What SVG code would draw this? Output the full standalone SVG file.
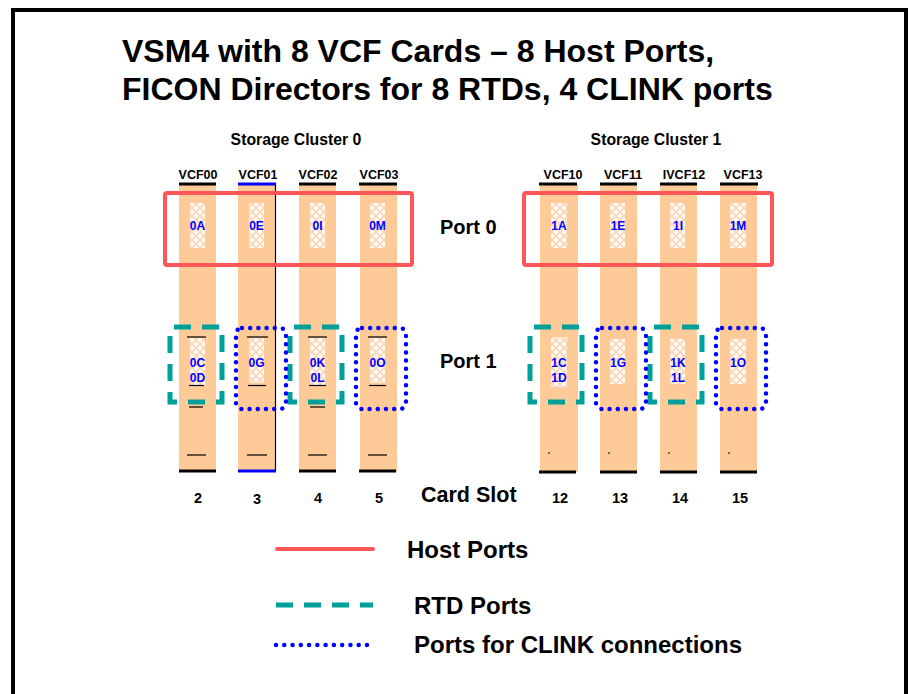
<svg xmlns="http://www.w3.org/2000/svg" width="909" height="694" viewBox="0 0 909 694">
<defs>
<pattern id="hatch" width="8" height="8" patternUnits="userSpaceOnUse">
<rect width="8" height="8" fill="#fffaf5"/>
<path d="M0,0 L8,8 M8,0 L0,8" stroke="#fad3b0" stroke-width="1.5"/>
</pattern>
<style>
text{font-family:"Liberation Sans",Arial,sans-serif;font-weight:bold;fill:#000}
.title{font-size:32px}
.cl{font-size:15.8px;text-anchor:middle}
.vcf{font-size:12.5px;text-anchor:middle}
.port{font-size:20px}
.pl{font-size:12px;fill:#0000ff;text-anchor:middle}
.slot{font-size:14.5px;text-anchor:middle}
.leg{font-size:24px}
.bar{fill:#fecb98}
.hb{fill:url(#hatch)}
.host{fill:none;stroke:#ff5757;stroke-width:4}
.rtd{fill:none;stroke:#00a09a;stroke-width:5;stroke-dasharray:17 11}
.clink{fill:none;stroke:#0000ff;stroke-width:4.5;stroke-dasharray:0 8.2;stroke-linecap:round}
.hl{stroke:#000;stroke-width:3}
.sl{stroke:#000;stroke-width:1.2}
</style>
</defs>
<rect x="13" y="10" width="893" height="700" fill="#fff" stroke="#000" stroke-width="4"/>
<text class="title" x="122" y="62">VSM4 with 8 VCF Cards – 8 Host Ports,</text>
<text class="title" x="122" y="100">FICON Directors for 8 RTDs, 4 CLINK ports</text>
<text class="cl" x="296" y="145">Storage Cluster 0</text>
<text class="cl" x="656" y="145">Storage Cluster 1</text>

<g id="cards">
<g id="vcf00">
<rect class="bar" x="179" y="185" width="37" height="287"/>
<line class="hl" x1="179" y1="184" x2="216" y2="184"/>
<line class="hl" x1="179" y1="471" x2="216" y2="471"/>
<text class="vcf" x="198" y="179">VCF00</text>
<rect class="hb" x="190" y="203" width="15" height="45"/>
<text class="pl" x="197.5" y="230">0A</text>
<rect class="hb" x="190" y="338" width="15" height="47"/>
<text class="pl" x="197.5" y="367">0C</text>
<text class="pl" x="197.5" y="382">0D</text>
<line class="sl" x1="187" y1="337" x2="206" y2="337"/>
<line class="sl" x1="189" y1="385.5" x2="204" y2="385.5"/>
<line class="sl" x1="189" y1="407" x2="203" y2="407"/>
<line class="sl" x1="187" y1="455" x2="206" y2="455"/>
<text class="slot" x="198" y="503">2</text>
</g>
<g id="vcf01">
<rect class="bar" x="238" y="185" width="37" height="287"/>
<line x1="238" y1="184" x2="276" y2="184" stroke="#0000ff" stroke-width="3"/>
<line x1="238" y1="471" x2="276" y2="471" stroke="#0000ff" stroke-width="3"/>
<line x1="275.5" y1="185" x2="275.5" y2="470" stroke="#000" stroke-width="1.2"/>
<text class="vcf" x="258" y="179">VCF01</text>
<rect class="hb" x="249" y="203" width="15" height="45"/>
<text class="pl" x="256.5" y="230">0E</text>
<rect class="hb" x="249" y="338" width="15" height="45"/>
<text class="pl" x="256.5" y="367">0G</text>
<line class="sl" x1="247" y1="337" x2="268" y2="337"/>
<line class="sl" x1="248" y1="385.5" x2="266" y2="385.5"/>
<line class="sl" x1="247" y1="455" x2="267" y2="455"/>
<text class="slot" x="257" y="504">3</text>
</g>
<g id="vcf02">
<rect class="bar" x="299" y="185" width="37" height="287"/>
<line class="hl" x1="299" y1="184" x2="336" y2="184"/>
<line class="hl" x1="299" y1="471" x2="336" y2="471"/>
<text class="vcf" x="318" y="179">VCF02</text>
<rect class="hb" x="310" y="203" width="15" height="45"/>
<text class="pl" x="317.5" y="230">0I</text>
<rect class="hb" x="310" y="338" width="15" height="47"/>
<text class="pl" x="317.5" y="367">0K</text>
<text class="pl" x="317.5" y="382">0L</text>
<line class="sl" x1="308" y1="337" x2="327" y2="337"/>
<line class="sl" x1="309" y1="385.5" x2="326" y2="385.5"/>
<line class="sl" x1="310" y1="407" x2="325" y2="407"/>
<line class="sl" x1="308" y1="455" x2="327" y2="455"/>
<text class="slot" x="318" y="503">4</text>
</g>
<g id="vcf03">
<rect class="bar" x="360" y="185" width="37" height="287"/>
<line class="hl" x1="359" y1="184" x2="397" y2="184"/>
<line class="hl" x1="359" y1="471" x2="396" y2="471"/>
<text class="vcf" x="379" y="179">VCF03</text>
<rect class="hb" x="370" y="203" width="15" height="45"/>
<text class="pl" x="377.5" y="230">0M</text>
<rect class="hb" x="370" y="338" width="15" height="45"/>
<text class="pl" x="377.5" y="367">0O</text>
<line class="sl" x1="368" y1="337" x2="387" y2="337"/>
<line class="sl" x1="369" y1="385.5" x2="386" y2="385.5"/>
<line class="sl" x1="368" y1="455" x2="387" y2="455"/>
<text class="slot" x="379" y="503">5</text>
</g>
<g id="vcf10">
<rect class="bar" x="540" y="185" width="38" height="287"/>
<line class="hl" x1="539" y1="184" x2="577" y2="184"/>
<line class="hl" x1="539" y1="472" x2="576" y2="472"/>
<text class="vcf" x="563" y="179">VCF10</text>
<rect class="hb" x="551" y="203" width="16" height="45"/>
<text class="pl" x="559" y="230">1A</text>
<rect class="hb" x="551" y="339" width="16" height="48"/>
<line x1="552" y1="338" x2="568" y2="338" stroke="#fff" stroke-width="1"/>
<text class="pl" x="559" y="367">1C</text>
<text class="pl" x="559" y="382">1D</text>
<line class="sl" x1="548" y1="453" x2="550" y2="453"/>
<text class="slot" x="560" y="503">12</text>
</g>
<g id="vcf11">
<rect class="bar" x="600" y="185" width="37" height="287"/>
<line class="hl" x1="600" y1="184" x2="637" y2="184"/>
<line class="hl" x1="600" y1="472" x2="637" y2="472"/>
<text class="vcf" x="623" y="179">VCF11</text>
<rect class="hb" x="610" y="203" width="15" height="45"/>
<text class="pl" x="618" y="230">1E</text>
<rect class="hb" x="610" y="339" width="15" height="45"/>
<text class="pl" x="618" y="367">1G</text>
<line class="sl" x1="608" y1="453" x2="610" y2="453"/>
<text class="slot" x="620" y="503">13</text>
</g>
<g id="vcf12">
<rect class="bar" x="660" y="185" width="37" height="287"/>
<line class="hl" x1="660" y1="184" x2="697" y2="184"/>
<line class="hl" x1="660" y1="472" x2="697" y2="472"/>
<text class="vcf" x="684" y="179">IVCF12</text>
<rect class="hb" x="670" y="203" width="15" height="45"/>
<text class="pl" x="678" y="230">1I</text>
<rect class="hb" x="670" y="339" width="15" height="45"/>
<text class="pl" x="678" y="367">1K</text>
<text class="pl" x="678" y="382">1L</text>
<line class="sl" x1="668" y1="453" x2="670" y2="453"/>
<text class="slot" x="680" y="503">14</text>
</g>
<g id="vcf13">
<rect class="bar" x="720" y="185" width="37" height="287"/>
<line class="hl" x1="720" y1="184" x2="758" y2="184"/>
<line class="hl" x1="720" y1="472" x2="757" y2="472"/>
<text class="vcf" x="743" y="179">VCF13</text>
<rect class="hb" x="730" y="203" width="16" height="45"/>
<text class="pl" x="738" y="230">1M</text>
<rect class="hb" x="730" y="339" width="16" height="45"/>
<text class="pl" x="738" y="367">1O</text>
<line class="sl" x1="728" y1="453" x2="730" y2="453"/>
<text class="slot" x="740" y="503">15</text>
</g>
</g>

<g id="port-groups">
<rect id="host0" class="host" x="165" y="193" width="247" height="72" rx="2"/>
<rect id="host1" class="host" x="524" y="193" width="248" height="72" rx="2"/>
<rect id="rtd-0C" class="rtd" x="170" y="327" width="52" height="75" stroke-dashoffset="-4"/>
<rect id="rtd-0K" class="rtd" x="290" y="327" width="52" height="75" stroke-dashoffset="-4"/>
<rect id="rtd-1C" class="rtd" x="530" y="327" width="52" height="75" stroke-dashoffset="-4"/>
<rect id="rtd-1K" class="rtd" x="650" y="327" width="52" height="75" stroke-dashoffset="-4"/>
<rect id="clk-0G" class="clink" x="236" y="328" width="50" height="81" rx="6"/>
<rect id="clk-0O" class="clink" x="356" y="328" width="50" height="81" rx="6"/>
<rect id="clk-1G" class="clink" x="596" y="328" width="50" height="81" rx="6"/>
<rect id="clk-1O" class="clink" x="716" y="328" width="50" height="81" rx="6"/>
</g>

<text class="port" x="440" y="234">Port 0</text>
<text class="port" x="440" y="368">Port 1</text>
<text class="port" x="421" y="502" style="font-size:21.5px">Card Slot</text>

<g id="legend">
<line x1="277" y1="549" x2="373" y2="549" stroke="#ff5757" stroke-width="4" stroke-linecap="round"/>
<text class="leg" x="407" y="558">Host Ports</text>
<line x1="276" y1="605" x2="373" y2="605" stroke="#00a09a" stroke-width="5" stroke-dasharray="17 11"/>
<text class="leg" x="414" y="614">RTD Ports</text>
<line x1="276" y1="645" x2="367" y2="645" stroke="#0000ff" stroke-width="4.5" stroke-dasharray="0 8.27" stroke-linecap="round"/>
<text class="leg" x="414" y="653">Ports for CLINK connections</text>
</g>
</svg>
